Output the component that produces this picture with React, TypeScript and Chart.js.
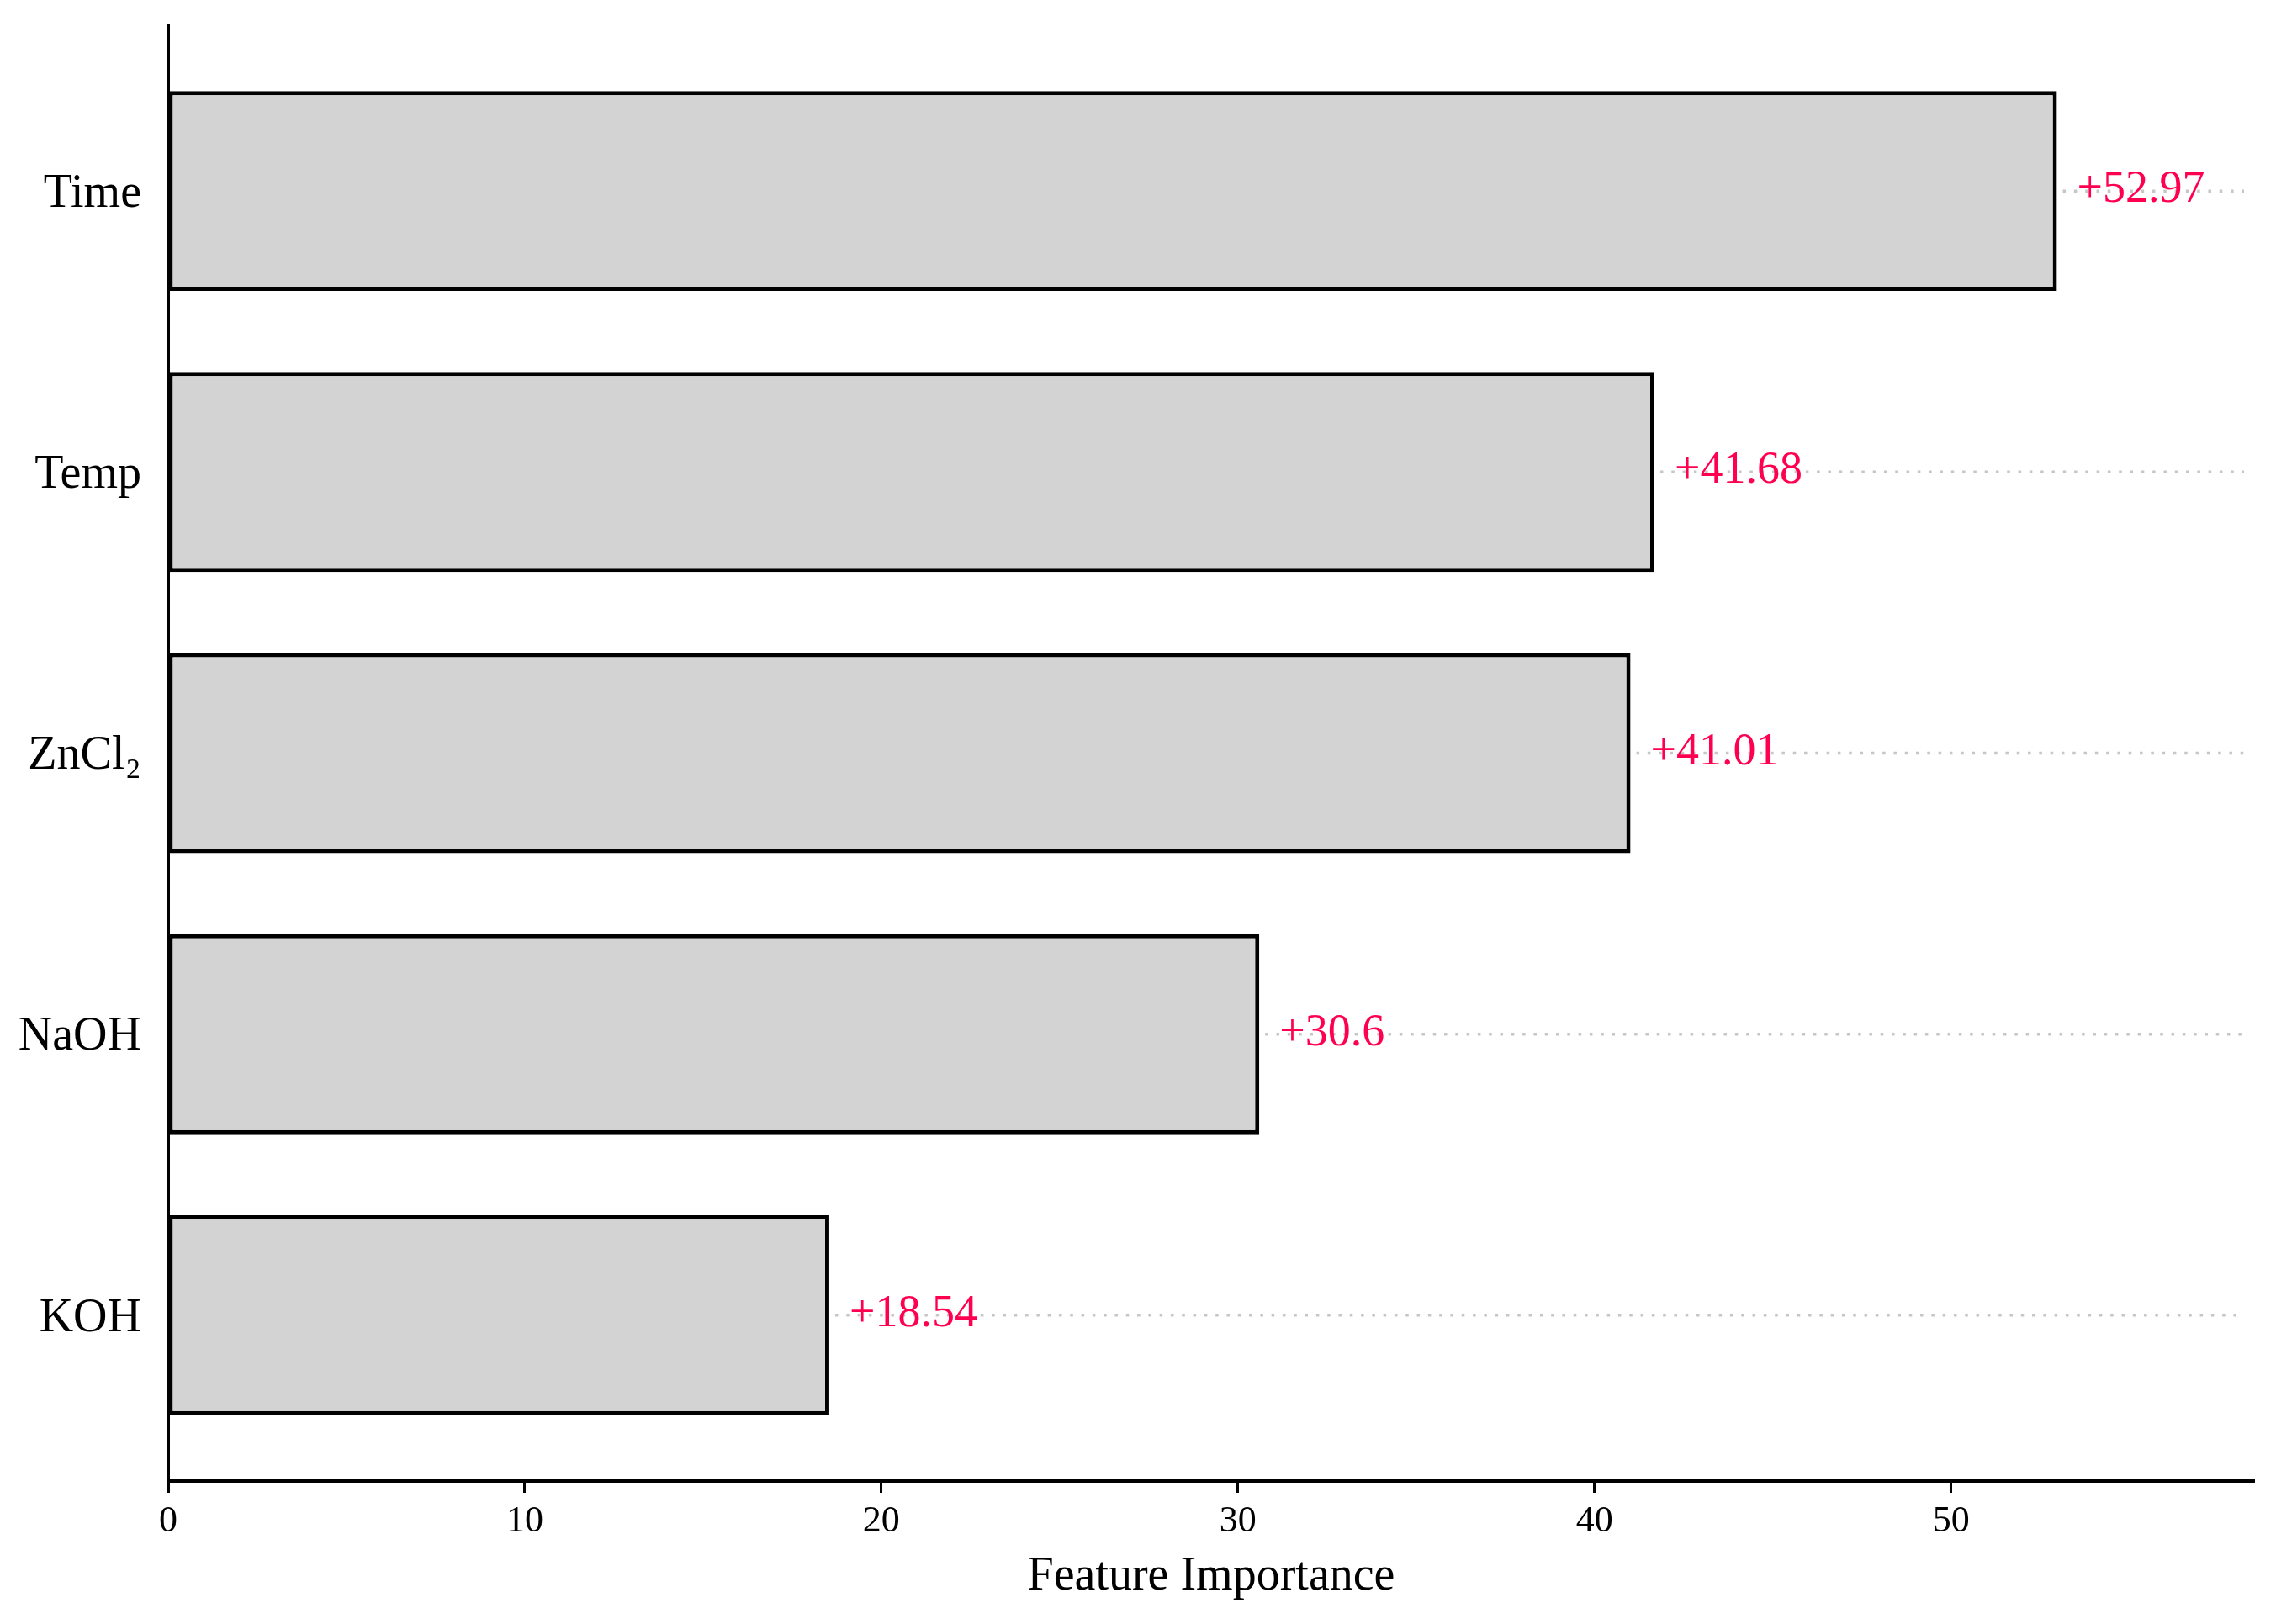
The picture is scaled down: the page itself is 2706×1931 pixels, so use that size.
import React, { useEffect, useRef } from 'react';
import { Chart, registerables } from 'chart.js';

Chart.register(...registerables);

const categories = ['Time', 'Temp', 'ZnCl₂', 'NaOH', 'KOH'];
const importance = [52.97, 41.68, 41.01, 30.6, 18.54];
const xTicks = [0, 10, 20, 30, 40, 50];
const xAxisTitle = 'Feature Importance';

const W = 2706;
const H = 1931;
const SERIF = '"Liberation Serif", "Times New Roman", serif';

const valueLabelPlugin = {
  id: 'valueLabels',
  afterDatasetsDraw(chart: any) {
    const { ctx, chartArea } = chart;
    const meta = chart.getDatasetMeta(0);
    ctx.save();
    meta.data.forEach((bar: any, i: number) => {
      const { x, y } = bar.getProps(['x', 'y'], true);
      ctx.setLineDash([3.5, 9.8]);
      ctx.strokeStyle = '#c6c6c6';
      ctx.lineWidth = 3.5;
      ctx.beginPath();
      ctx.moveTo(x + 7, y);
      ctx.lineTo(chartArea.right - 12, y);
      ctx.stroke();
      ctx.setLineDash([]);
      ctx.fillStyle = '#ff0051';
      ctx.font = `54px ${SERIF}`;
      ctx.textBaseline = 'alphabetic';
      ctx.textAlign = 'left';
      ctx.fillText('+' + String(importance[i]), x + 24, y + 13);
    });
    ctx.restore();
  },
};

export default function App() {
  const canvasRef = useRef<HTMLCanvasElement | null>(null);

  useEffect(() => {
    const canvas = canvasRef.current;
    if (!canvas) return;
    const chart = new Chart(canvas, {
      type: 'bar',
      data: {
        datasets: [
          {
            data: importance.map((v, i) => ({ x: v, y: i })),
            backgroundColor: '#d3d3d3',
            borderColor: '#000000',
            borderWidth: 5,
            borderSkipped: false,
            barPercentage: 0.712,
            categoryPercentage: 1,
          },
        ],
      },
      options: {
        indexAxis: 'y',
        responsive: false,
        animation: false,
        devicePixelRatio: 1,
        layout: { padding: { top: 30, right: 26, left: 0, bottom: 0 } },
        plugins: {
          legend: { display: false },
          tooltip: { enabled: false },
        },
        scales: {
          x: {
            type: 'linear',
            position: 'bottom',
            min: 0,
            max: 58.5,
            offset: false,
            afterBuildTicks: (scale: any) => {
              scale.ticks = xTicks.map((v) => ({ value: v }));
            },
            afterFit: (scale: any) => {
              scale.height = 170;
              scale.paddingLeft = 0;
              scale.paddingRight = 0;
            },
            ticks: {
              color: '#000',
              font: { family: SERIF, size: 44 },
              padding: 8,
              maxRotation: 0,
            },
            grid: {
              display: true,
              offset: false,
              drawOnChartArea: false,
              drawTicks: true,
              tickLength: 14,
              tickWidth: 3,
              tickColor: '#000',
            },
            border: { display: true, color: '#000', width: 4 },
            title: {
              display: true,
              text: xAxisTitle,
              color: '#000',
              font: { family: SERIF, size: 56 },
              padding: { top: 0, bottom: 22 },
            },
          },
          y: {
            type: 'linear',
            reverse: true,
            min: -0.59,
            max: 4.59,
            offset: false,
            afterBuildTicks: (scale: any) => {
              scale.ticks = categories.map((_, i) => ({ value: i }));
            },
            afterFit: (scale: any) => {
              scale.width = 200;
              scale.paddingTop = 0;
              scale.paddingBottom = 0;
            },
            ticks: {
              color: '#000',
              font: { family: SERIF, size: 56 },
              padding: 32,
              labelOffset: 4,
              callback: (v: any) => categories[Math.round(Number(v))] ?? '',
            },
            grid: {
              display: true,
              offset: false,
              drawOnChartArea: false,
              drawTicks: false,
            },
            border: { display: true, color: '#000', width: 4 },
          },
        },
      },
      plugins: [valueLabelPlugin],
    } as any);
    return () => chart.destroy();
  }, []);

  return (
    <div style={{ position: 'fixed', left: 0, top: 0, width: W, height: H, background: '#fff' }}>
      <canvas ref={canvasRef} width={W} height={H} style={{ display: 'block', width: W, height: H }} />
    </div>
  );
}
